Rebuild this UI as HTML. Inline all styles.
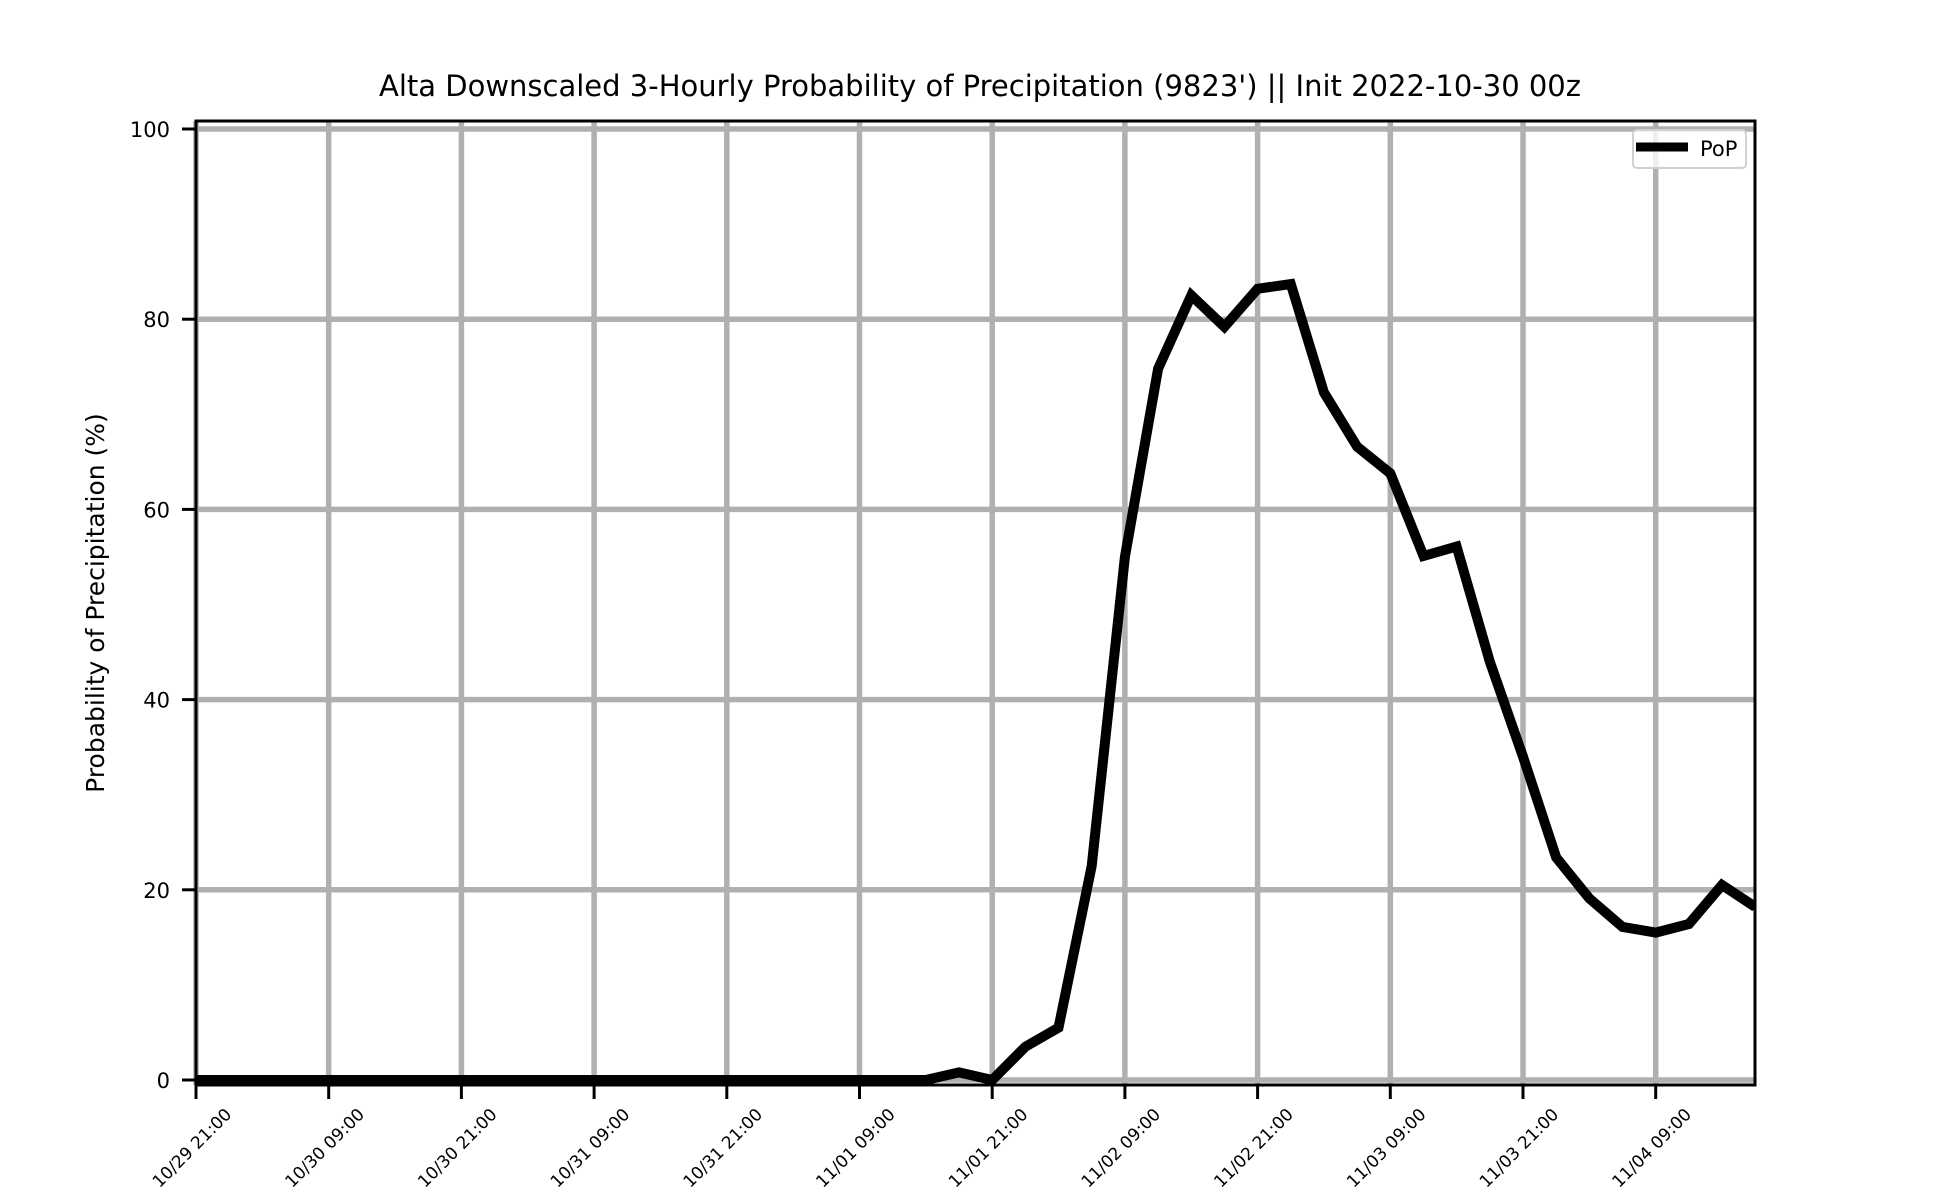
<!DOCTYPE html>
<html><head><meta charset="utf-8"><style>
html,body{margin:0;padding:0;background:#fff;}
svg{display:block;font-family:"DejaVu Sans","Liberation Sans",sans-serif;}
</style></head><body>
<svg id="chart" width="1950" height="1200" viewBox="0 0 1950 1200">
<rect x="0" y="0" width="1950" height="1200" fill="#fff"/>
<text x="980" y="96" font-size="29" text-anchor="middle">Alta Downscaled 3-Hourly Probability of Precipitation (9823') || Init 2022-10-30 00z</text>
<text transform="translate(104,603) rotate(-90)" font-size="25" text-anchor="middle">Probability of Precipitation (%)</text>
<g id="grid"></g>
<g id="series"></g>
<g id="axes"></g>
<g>
<rect x="1633" y="130" width="113" height="38" rx="4" fill="#fff" fill-opacity="0.8" stroke="#d0d0d0" stroke-width="2"/>
<line x1="1636" y1="147" x2="1688" y2="147" stroke="#000" stroke-width="9"/>
<text x="1700" y="156" font-size="21">PoP</text>
</g>
</svg>
<script>
const xTickLabels=["10/29 21:00","10/30 09:00","10/30 21:00","10/31 09:00","10/31 21:00","11/01 09:00","11/01 21:00","11/02 09:00","11/02 21:00","11/03 09:00","11/03 21:00","11/04 09:00"];
const yTicks=[0,20,40,60,80,100];
const hours=[];for(let i=0;i<48;i++)hours.push(i*3);
const pop=[0,0,0,0,0,0,0,0,0,0,0,0,0,0,0,0,0,0,0,0,0,0,0,0.8,0,3.5,5.5,22.5,55,74.8,82.5,79.2,83.2,83.7,72.3,66.6,63.8,55.1,56.1,44,34,23.4,19.1,16.1,15.5,16.4,20.5,18.2];
const L=196,R=1755,T=121,B=1085;
const X=h=>L+h*(132.7/12);
const Y=v=>1080-v*9.51;
const NS='http://www.w3.org/2000/svg';
function mk(tag,attrs,parent){const e=document.createElementNS(NS,tag);for(const k in attrs)e.setAttribute(k,attrs[k]);parent.appendChild(e);return e;}
const grid=document.getElementById('grid'),axes=document.getElementById('axes'),series=document.getElementById('series');
xTickLabels.forEach((lab,i)=>{
 const x=X(i*12);
 const g=mk('line',{x1:x,y1:T,x2:x,y2:B,stroke:'#b0b0b0','stroke-width':5.5},grid);
 
 
 const t=mk('line',{x1:x,y1:B,x2:x,y2:B+14,stroke:'#000','stroke-width':3},axes);
 
 
 const tx=mk('text',{transform:`translate(${x},${1152}) rotate(-45)`,'font-size':17,'text-anchor':'middle'},axes);
 tx.textContent=lab;
 
 
});
yTicks.forEach(v=>{
 const y=Y(v);
 const g=mk('line',{x1:L,y1:y,x2:R,y2:y,stroke:'#b0b0b0','stroke-width':5.5},grid);
 
 
 const t=mk('line',{x1:L-14,y1:y,x2:L,y2:y,stroke:'#000','stroke-width':3},axes);
 
 
 const tx=mk('text',{x:L-26,y:y+8,'font-size':21,'text-anchor':'end'},axes);
 tx.textContent=v;
 
 
});
const pts=pop.map((v,i)=>X(hours[i]).toFixed(1)+','+Y(v).toFixed(1)).join(' ');
const cp=mk('clipPath',{id:'clip'},series);mk('rect',{x:L,y:T,width:R-L,height:B-T},cp);
const pl=mk('polyline',{points:pts,fill:'none',stroke:'#000','stroke-width':10,'stroke-linejoin':'miter','clip-path':'url(#clip)'},series);


const fr=mk('rect',{x:L,y:T,width:R-L,height:B-T,fill:'none',stroke:'#000','stroke-width':3},axes);


</script>
</body></html>
